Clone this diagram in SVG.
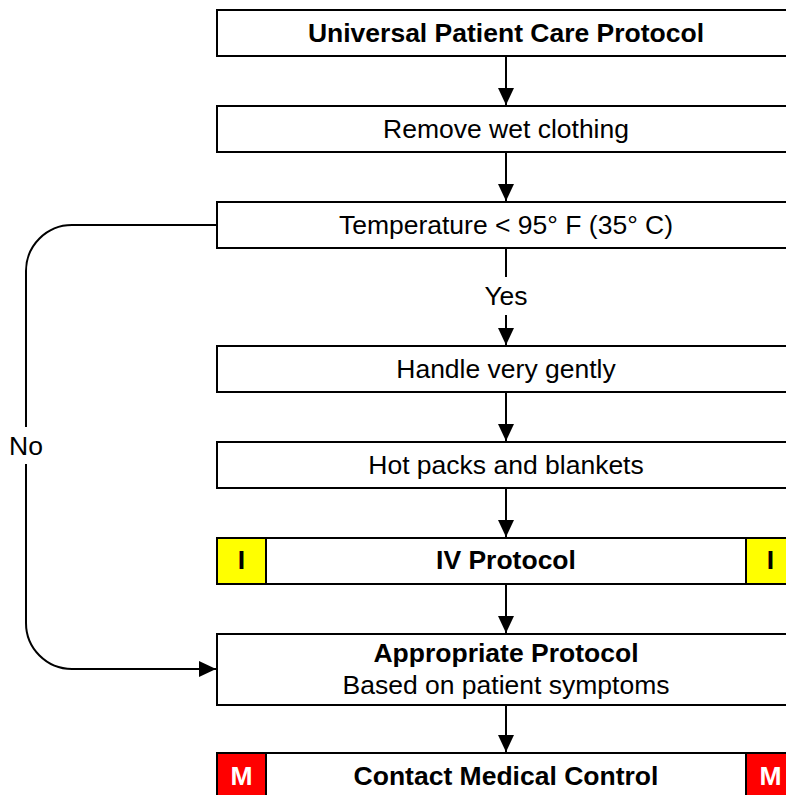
<svg xmlns="http://www.w3.org/2000/svg" width="786" height="795" viewBox="0 0 786 795">
<style>
.box{fill:#fff;stroke:#000;stroke-width:2}
.t{font-family:"Liberation Sans",Arial,sans-serif;font-size:26.5px;fill:#000;text-anchor:middle}
.b{font-weight:bold}
.w{fill:#fff}
.ln{fill:none;stroke:#000;stroke-width:2}
.yel{fill:#ffff00;stroke:#000;stroke-width:2}
.red{fill:#ff0000;stroke:#000;stroke-width:2}
</style>
<defs>
<marker id="ah" viewBox="0 0 17 16" refX="17" refY="8" markerWidth="17" markerHeight="16" markerUnits="userSpaceOnUse" orient="auto">
<path d="M0,0 L17,8 L0,16 Z" fill="#000"/>
</marker>
</defs>
<rect width="786" height="795" fill="#fff"/>
<g id="connectors">
<line class="ln" x1="506" y1="56" x2="506" y2="105" marker-end="url(#ah)"/>
<line class="ln" x1="506" y1="152" x2="506" y2="201" marker-end="url(#ah)"/>
<line class="ln" x1="506" y1="248" x2="506" y2="277"/>
<line class="ln" x1="506" y1="315" x2="506" y2="345" marker-end="url(#ah)"/>
<text class="t" x="506" y="305">Yes</text>
<line class="ln" x1="506" y1="392" x2="506" y2="441" marker-end="url(#ah)"/>
<line class="ln" x1="506" y1="488" x2="506" y2="537" marker-end="url(#ah)"/>
<line class="ln" x1="506" y1="584" x2="506" y2="633" marker-end="url(#ah)"/>
<line class="ln" x1="506" y1="705" x2="506" y2="752" marker-end="url(#ah)"/>
<path class="ln" d="M217,225 H72 A46,46 0 0 0 26,271 V427"/>
<path class="ln" d="M26,464 V623 A46,46 0 0 0 72,669 H216" marker-end="url(#ah)"/>
<text class="t" x="26" y="455">No</text>
</g>
<g id="n1"><rect class="box" x="217" y="10" width="578" height="46"/><text class="t b" x="506" y="42">Universal Patient Care Protocol</text></g>
<g id="n2"><rect class="box" x="217" y="106" width="578" height="46"/><text class="t" x="506" y="138">Remove wet clothing</text></g>
<g id="n3"><rect class="box" x="217" y="202" width="578" height="46"/><text class="t" x="506" y="234">Temperature &lt; 95° F (35° C)</text></g>
<g id="n4"><rect class="box" x="217" y="346" width="578" height="46"/><text class="t" x="506" y="378">Handle very gently</text></g>
<g id="n5"><rect class="box" x="217" y="442" width="578" height="46"/><text class="t" x="506" y="474">Hot packs and blankets</text></g>
<g id="n6"><rect class="box" x="217" y="538" width="578" height="46"/>
<rect class="yel" x="217" y="538" width="49" height="46"/><rect class="yel" x="746" y="538" width="49" height="46"/>
<text class="t b" x="241.5" y="569">I</text><text class="t b" x="770.5" y="569">I</text>
<text class="t b" x="506" y="569">IV Protocol</text></g>
<g id="n7"><rect class="box" x="217" y="634" width="578" height="71"/><text class="t b" x="506" y="662">Appropriate Protocol</text><text class="t" x="506" y="694">Based on patient symptoms</text></g>
<g id="n8"><rect class="box" x="217" y="753" width="578" height="46"/>
<rect class="red" x="217" y="753" width="49" height="46"/><rect class="red" x="746" y="753" width="49" height="46"/>
<text class="t b w" x="241.5" y="785">M</text><text class="t b w" x="770.5" y="785">M</text>
<text class="t b" x="506" y="785">Contact Medical Control</text></g>
</svg>
